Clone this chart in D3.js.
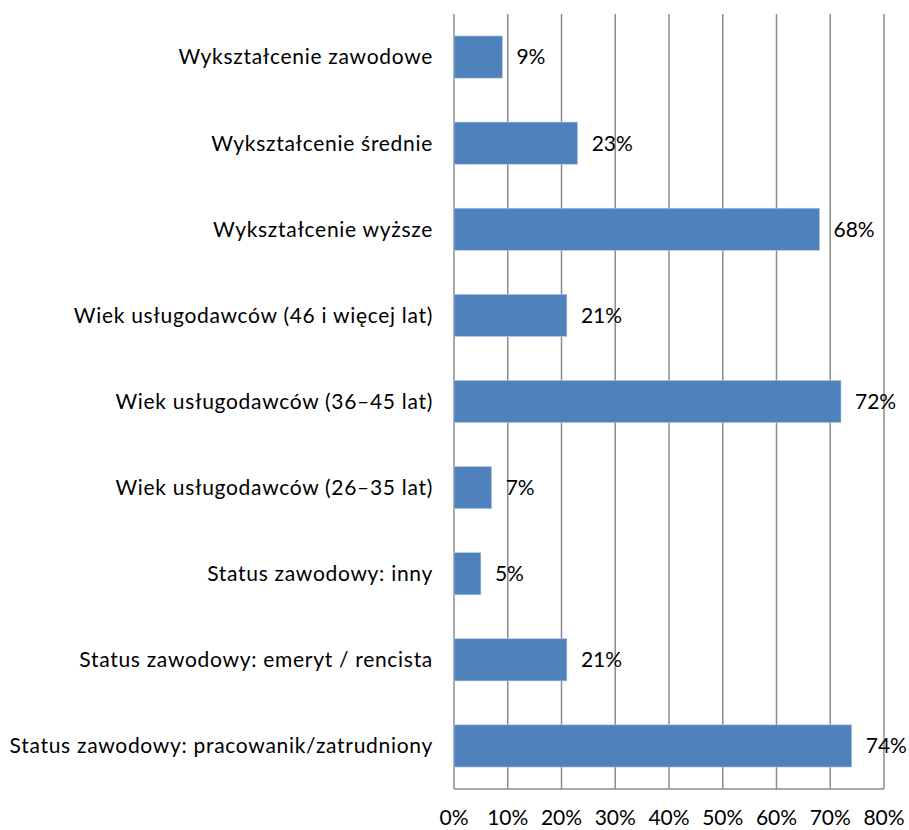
<!DOCTYPE html>
<html>
<head>
<meta charset="utf-8">
<script src="https://cdn.jsdelivr.net/npm/d3@7"></script>
<style>
  body { margin: 0; background: #fff; }
  text { font-family: Lato, "Liberation Sans", sans-serif; fill: #000; }
</style>
</head>
<body>
<svg width="909" height="830"></svg>
<script>
var categories = [
  "Wykształcenie zawodowe",
  "Wykształcenie średnie",
  "Wykształcenie wyższe",
  "Wiek usługodawców (46 i więcej lat)",
  "Wiek usługodawców (36–45 lat)",
  "Wiek usługodawców (26–35 lat)",
  "Status zawodowy: inny",
  "Status zawodowy: emeryt / rencista",
  "Status zawodowy: pracowanik/zatrudniony"
];
var values = [9, 23, 68, 21, 72, 7, 5, 21, 74];
var xTicks = [0, 10, 20, 30, 40, 50, 60, 70, 80];

var svg = d3.select("svg"),
  plotLeft = 454, plotRight = 884, plotTop = 14, plotBottom = 789;

var xScale = d3.scaleLinear().domain([0, 80]).range([plotLeft, plotRight]),
  yScale = d3.scaleBand().domain(categories).range([plotTop, plotBottom]).paddingInner(0.51).paddingOuter(0.255);

// gridlines
svg.append("g")
  .selectAll("line")
  .data(xTicks)
  .enter()
  .append("line")
  .attr("x1", function (d) { return xScale(d); })
  .attr("x2", function (d) { return xScale(d); })
  .attr("y1", plotTop)
  .attr("y2", plotBottom)
  .attr("stroke", "#8c8c8c")
  .attr("stroke-width", 1.5);

// bottom axis line
svg.append("line")
  .attr("x1", plotLeft).attr("x2", plotRight)
  .attr("y1", plotBottom).attr("y2", plotBottom)
  .attr("stroke", "#8c8c8c")
  .attr("stroke-width", 1.5);

// bars
svg.selectAll(".bar")
  .data(values)
  .enter()
  .append("rect")
  .attr("class", "bar")
  .attr("x", xScale(0))
  .attr("y", function (d, i) { return yScale(categories[i]); })
  .attr("width", function (d) { return xScale(d) - xScale(0); })
  .attr("height", yScale.bandwidth())
  .attr("fill", "#4f81bd")
  .attr("stroke", "#b9cde5")
  .attr("stroke-width", 0.6);

// value labels
svg.selectAll(".val")
  .data(values)
  .enter()
  .append("text")
  .attr("class", "val")
  .attr("x", function (d) { return xScale(d) + 14; })
  .attr("y", function (d, i) { return yScale(categories[i]) + yScale.bandwidth() / 2; })
  .attr("dy", "0.35em")
  .attr("font-size", "21px")
  .text(function (d) { return d + "%"; });

// category labels
svg.selectAll(".cat")
  .data(categories)
  .enter()
  .append("text")
  .attr("class", "cat")
  .attr("x", plotLeft - 21)
  .attr("y", function (d) { return yScale(d) + yScale.bandwidth() / 2; })
  .attr("dy", "0.35em")
  .attr("text-anchor", "end")
  .attr("font-size", "21px")
  .attr("letter-spacing", "0.7px")
  .text(function (d) { return d; });

// tick labels
svg.selectAll(".tick-label")
  .data(xTicks)
  .enter()
  .append("text")
  .attr("class", "tick-label")
  .attr("x", function (d) { return xScale(d); })
  .attr("y", 825)
  .attr("text-anchor", "middle")
  .attr("font-size", "21px")
  .text(function (d) { return d + "%"; });
</script>
</body>
</html>
